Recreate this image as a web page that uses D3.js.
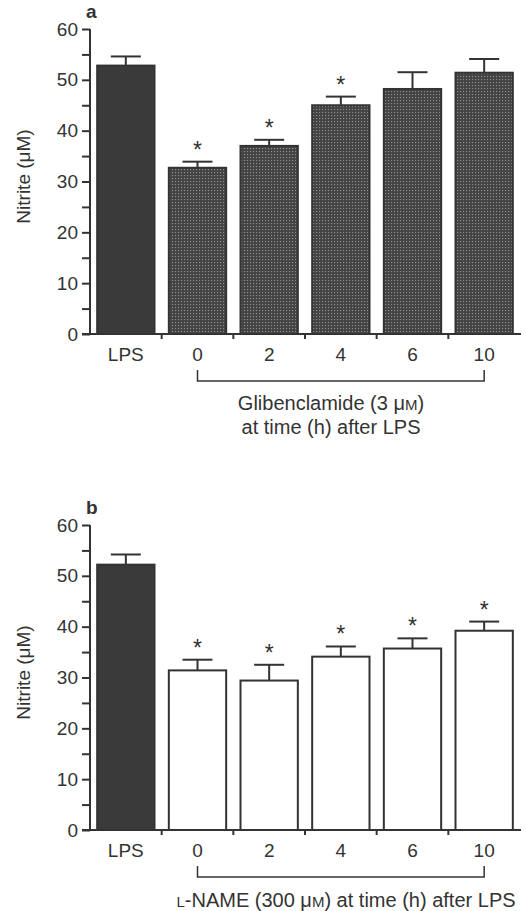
<!DOCTYPE html>
<html>
<head>
<meta charset="utf-8">
<script src="https://cdn.jsdelivr.net/npm/d3@7"></script>
<style>
  body { margin: 0; background: #fff; }
  svg text { font-family: "Liberation Sans", Arial, Helvetica, sans-serif; fill: #333; }
</style>
</head>
<body>
<div id="chart"></div>
<script>
// Categories (time after LPS, h)
const categories = ['LPS', '0', '2', '4', '6', '10'];
const yTicks = [0, 10, 20, 30, 40, 50, 60];

// Panel a: glibenclamide
const glibMean = [52.8, 32.7, 37.0, 45.0, 48.2, 51.4];
const glibErr = [1.8, 1.2, 1.2, 1.7, 3.3, 2.7];
const glibSig = [false, true, true, true, false, false];

// Panel b: L-NAME
const nameMean = [52.2, 31.4, 29.4, 34.1, 35.7, 39.2];
const nameErr = [2.0, 2.1, 3.1, 2.0, 2.0, 1.8];
const nameSig = [false, true, true, true, true, true];

const W = 526, H = 911;
const ink = '#333';

const svg = d3.select('#chart')
  .append('svg')
  .attr('width', W)
  .attr('height', H);

// dotted fill used for the glibenclamide bars
const defs = svg.append('defs');
const pat = defs.append('pattern')
  .attr('id', 'dots')
  .attr('width', 3)
  .attr('height', 3)
  .attr('patternUnits', 'userSpaceOnUse');
pat.append('rect').attr('width', 3).attr('height', 3).attr('fill', '#444');
pat.append('rect').attr('x', 1).attr('y', 1).attr('width', 1.1).attr('height', 1.1).attr('fill', '#909090');

function drawPanel(opts) {
  const g = svg.append('g');

  const x = d3.scaleBand()
    .domain(categories)
    .range([90, 520])
    .paddingInner(0.2)
    .paddingOuter(0.1);

  const y = d3.scaleLinear()
    .domain([0, 60])
    .range([opts.y0, opts.y0 - 305]);

  const data = categories.map((c, i) => ({
    cat: c, mean: opts.mean[i], err: opts.err[i], sig: opts.sig[i]
  }));

  // Bars
  g.selectAll('.bar')
    .data(data)
    .join('rect')
    .attr('class', 'bar')
    .attr('x', d => x(d.cat))
    .attr('width', x.bandwidth())
    .attr('y', d => y(d.mean))
    .attr('height', d => y(0) - y(d.mean))
    .attr('fill', d => d.cat === 'LPS' ? '#3a3a3a' : opts.fill)
    .attr('stroke', ink)
    .attr('stroke-width', 2);

  // Error bars (upper only)
  const eb = g.selectAll('.err')
    .data(data)
    .join('g')
    .attr('class', 'err')
    .attr('stroke', ink)
    .attr('stroke-width', 2);
  eb.append('line')
    .attr('x1', d => x(d.cat) + x.bandwidth() / 2)
    .attr('x2', d => x(d.cat) + x.bandwidth() / 2)
    .attr('y1', d => y(d.mean))
    .attr('y2', d => y(d.mean + d.err));
  eb.append('line')
    .attr('x1', d => x(d.cat) + x.bandwidth() / 2 - 15)
    .attr('x2', d => x(d.cat) + x.bandwidth() / 2 + 15)
    .attr('y1', d => y(d.mean + d.err))
    .attr('y2', d => y(d.mean + d.err));

  // Significance stars
  g.selectAll('.star')
    .data(data.filter(d => d.sig))
    .join('text')
    .attr('class', 'star')
    .attr('x', d => x(d.cat) + x.bandwidth() / 2)
    .attr('y', d => y(d.mean + d.err) - 4)
    .attr('text-anchor', 'middle')
    .style('font-size', '23px')
    .text('*');

  // Y axis
  const yAxis = d3.axisLeft(y)
    .tickValues(d3.range(0, 61, 5))
    .tickSize(8)
    .tickPadding(4)
    .tickFormat(d => yTicks.includes(d) ? d : '');
  const ya = g.append('g')
    .attr('transform', 'translate(90,0)')
    .call(yAxis);
  ya.select('.domain').attr('stroke', ink).attr('stroke-width', 2)
    .attr('d', `M0,${y(60)}V${y(0)}`);
  ya.selectAll('.tick line').attr('stroke', ink).attr('stroke-width', 2);
  ya.selectAll('.tick text').style('font-size', '19px').attr('fill', ink);

  // X axis line with small ticks between bars
  g.append('line')
    .attr('x1', 82).attr('x2', 521)
    .attr('y1', y(0)).attr('y2', y(0))
    .attr('stroke', ink).attr('stroke-width', 2);
  g.selectAll('.xtick')
    .data(categories.slice(1))
    .join('line')
    .attr('x1', d => x(d) - x.step() * 0.1)
    .attr('x2', d => x(d) - x.step() * 0.1)
    .attr('y1', y(0)).attr('y2', y(0) + 5)
    .attr('stroke', ink).attr('stroke-width', 2);
  g.selectAll('.xlab')
    .data(categories)
    .join('text')
    .attr('x', d => x(d) + x.bandwidth() / 2)
    .attr('y', y(0) + 27)
    .attr('text-anchor', 'middle')
    .style('font-size', '19px')
    .text(d => d);

  // Bracket under the treated groups
  const bx0 = x('0') + x.bandwidth() / 2;
  const bx1 = x('10') + x.bandwidth() / 2;
  g.append('path')
    .attr('d', `M${bx0},${y(0) + 36}V${y(0) + 47}H${bx1}V${y(0) + 36}`)
    .attr('fill', 'none')
    .attr('stroke', ink)
    .attr('stroke-width', 1.5);

  // Panel letter
  g.append('text')
    .attr('x', 86)
    .attr('y', y(60) - 11)
    .style('font-size', '19px')
    .style('font-weight', 'bold')
    .text(opts.letter);

  // Y label
  g.append('text')
    .attr('transform', `translate(30,${y(30) - 5}) rotate(-90)`)
    .attr('text-anchor', 'middle')
    .style('font-size', '19px')
    .text('Nitrite (μM)');

  return { g, x, y, bx0, bx1 };
}

// Panel a
const pa = drawPanel({ y0: 334, mean: glibMean, err: glibErr, sig: glibSig, fill: 'url(#dots)', letter: 'a' });
const la = pa.g.append('text')
  .attr('x', 331).attr('y', pa.y(0) + 76)
  .attr('text-anchor', 'middle')
  .style('font-size', '20px');
la.append('tspan').text('Glibenclamide (3 μ');
la.append('tspan').style('font-size', '15px').text('M');
la.append('tspan').text(')');
pa.g.append('text')
  .attr('x', 331).attr('y', pa.y(0) + 100)
  .attr('text-anchor', 'middle')
  .style('font-size', '20px')
  .text('at time (h) after LPS');

// Panel b
const pb = drawPanel({ y0: 830, mean: nameMean, err: nameErr, sig: nameSig, fill: '#fff', letter: 'b' });
const lb = pb.g.append('text')
  .attr('x', 346).attr('y', pb.y(0) + 77)
  .attr('text-anchor', 'middle')
  .style('font-size', '20px');
lb.append('tspan').style('font-size', '15px').text('L');
lb.append('tspan').text('-NAME (300 μ');
lb.append('tspan').style('font-size', '15px').text('M');
lb.append('tspan').text(') at time (h) after LPS');
</script>
</body>
</html>
